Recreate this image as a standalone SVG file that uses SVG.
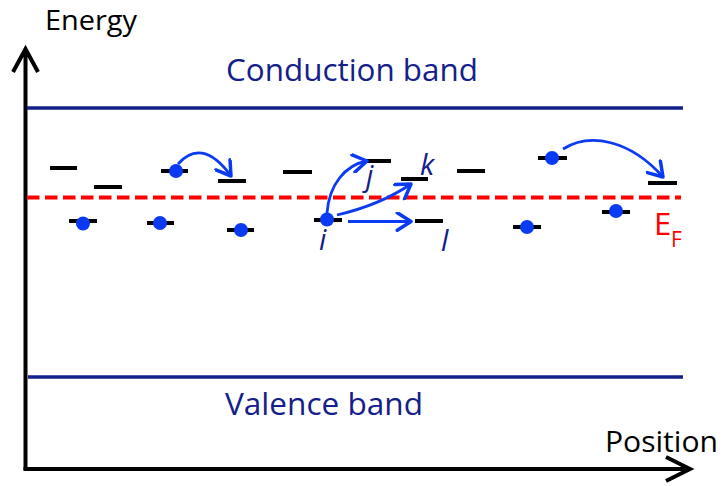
<svg xmlns="http://www.w3.org/2000/svg" width="723" height="486" viewBox="0 0 723 486">
<defs>
<style>
.lbl{font-family:"Open Sans","Liberation Sans",sans-serif;fill:#14208a;}
.ax{font-family:"Open Sans","Liberation Sans",sans-serif;fill:#000;font-size:30px;}
.band{stroke:#14208a;stroke-width:3.5;fill:none;}
.axis{stroke:#000;stroke-width:4;fill:none;}
.lvl{stroke:#000;stroke-width:4;}
.e{fill:#0a3af2;}
.arr{stroke:#0a3af2;stroke-width:2.8;fill:none;marker-end:url(#ah);}
.idx{font-family:"Open Sans","Liberation Sans",sans-serif;font-style:italic;font-size:29px;fill:#14208a;}
</style>
<marker id="ah" markerUnits="userSpaceOnUse" markerWidth="20" markerHeight="20" refX="13" refY="8" orient="auto" viewBox="0 0 16 16">
<path d="M2,1 L13,8 L2,15" fill="none" stroke="#0a3af2" stroke-width="2.8" stroke-linecap="round" stroke-linejoin="round"/>
</marker>
</defs>
<rect width="723" height="486" fill="#fff"/>
<g id="axes">
<path class="axis" d="M25.5,470 V49 M13,72 L25.5,49 L38,72"/>
<path class="axis" d="M23.5,469 H690 M666,457 L690,469 L666,481"/>
<text class="ax" x="45" y="30" textLength="92" lengthAdjust="spacingAndGlyphs" style="font-size:27px">Energy</text>
<text class="ax" x="605" y="452" textLength="113" lengthAdjust="spacingAndGlyphs">Position</text>
</g>
<g id="conduction-band">
<line class="band" x1="27" y1="108" x2="683" y2="108"/>
<text class="lbl" x="226" y="81" font-size="31" textLength="252" lengthAdjust="spacingAndGlyphs">Conduction band</text>
</g>
<g id="valence-band">
<line class="band" x1="28" y1="377" x2="683" y2="377"/>
<text class="lbl" x="225" y="415" font-size="31" textLength="198" lengthAdjust="spacingAndGlyphs">Valence band</text>
</g>
<g id="fermi-level">
<line x1="27" y1="197.5" x2="681" y2="197.5" stroke="#ff0000" stroke-width="4" stroke-dasharray="12.5 5.5"/>
<text x="654" y="235" font-family="Open Sans, Liberation Sans, sans-serif" font-size="31" fill="#ff0000">E<tspan x="671" y="247" font-size="21">F</tspan></text>
</g>
<g id="levels">
<line class="lvl" x1="50" y1="168" x2="77" y2="168"/>
<line class="lvl" x1="94" y1="187" x2="122" y2="187"/>
<line class="lvl" x1="161" y1="171" x2="188" y2="171"/>
<line class="lvl" x1="218" y1="181" x2="246" y2="181"/>
<line class="lvl" x1="69" y1="221" x2="97" y2="221"/>
<line class="lvl" x1="147" y1="223" x2="174" y2="223"/>
<line class="lvl" x1="227" y1="230" x2="254" y2="230"/>
<line class="lvl" x1="283" y1="172" x2="312" y2="172"/>
<line class="lvl" x1="314" y1="220" x2="342" y2="220"/>
<line class="lvl" x1="363" y1="161" x2="391" y2="161"/>
<line class="lvl" x1="401" y1="179" x2="428" y2="179"/>
<line class="lvl" x1="415" y1="221" x2="443" y2="221"/>
<line class="lvl" x1="457" y1="171" x2="485" y2="171"/>
<line class="lvl" x1="538" y1="158" x2="567" y2="158"/>
<line class="lvl" x1="648" y1="183" x2="677" y2="183"/>
<line class="lvl" x1="602" y1="212" x2="630" y2="212"/>
<line class="lvl" x1="513" y1="227" x2="541" y2="227"/>
</g>
<g id="electrons">
<circle class="e" cx="176" cy="171" r="7"/>
<circle class="e" cx="83" cy="223.5" r="7"/>
<circle class="e" cx="160" cy="223" r="7"/>
<circle class="e" cx="241" cy="230" r="7"/>
<circle class="e" cx="327" cy="219.5" r="7"/>
<circle class="e" cx="552" cy="158" r="7"/>
<circle class="e" cx="616" cy="211" r="7"/>
<circle class="e" cx="527" cy="227" r="7"/>
</g>
<g id="connectors">
<path class="arr" d="M178,164 C192,148 210,147 231,176"/>
<path class="arr" d="M327,213 C329,185 345,165 367,161"/>
<path class="arr" d="M337,215 Q380,205 411,184"/>
<path class="arr" d="M348,221.5 L411,221.5"/>
<path class="arr" d="M563,149 C590,132 630,140 663,177"/>
</g>
<g id="labels">
<text class="idx" x="319" y="250">i</text>
<text class="idx" x="366" y="186">j</text>
<text class="idx" x="420" y="175">k</text>
<text class="idx" x="441" y="251">l</text>
</g>
</svg>
